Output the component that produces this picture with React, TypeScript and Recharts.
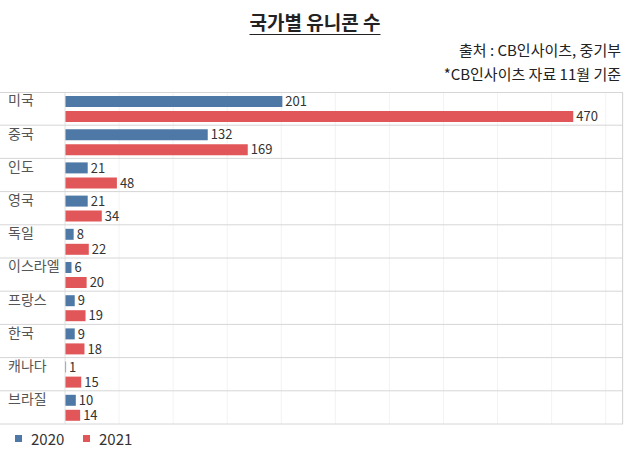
import { BarChart, Bar, XAxis, YAxis, CartesianGrid, LabelList } from 'recharts';

const countries = ['미국', '중국', '인도', '영국', '독일', '이스라엘', '프랑스', '한국', '캐나다', '브라질'];
const y2020 = [201, 132, 21, 21, 8, 6, 9, 9, 1, 10];
const y2021 = [470, 169, 48, 34, 22, 20, 19, 18, 15, 14];
const xTicks = [0, 50, 100, 150, 200, 250, 300, 350, 400, 450, 500];

const data = countries.map((c, i) => ({ country: c, v2020: y2020[i], v2021: y2021[i] }));

const FONT = '"Noto Sans CJK KR", "Noto Sans", sans-serif';
const BLUE = '#4e79a7';
const RED = '#e15759';
const TOP = 92;
const BAND = 33.2;

function CountryTick(props: any) {
  const { y, payload } = props;
  const bottom = y + BAND / 2;
  return (
    <g>
      <text x={8} y={y - 7} fontSize={14} fill="#555" fontFamily={FONT} dominantBaseline="middle">
        {payload.value}
      </text>
      <line x1={0} x2={623} y1={bottom} y2={bottom} stroke="#d6d6d6" strokeWidth={1} />
    </g>
  );
}

function LegendItem({ color, label, left }: { color: string; label: string; left: number }) {
  return (
    <div style={{ position: 'absolute', left, top: 0, display: 'flex', alignItems: 'center', height: 20 }}>
      <span style={{ width: 7, height: 7, background: color, display: 'inline-block', marginRight: 9 }} />
      <span style={{ fontSize: 15, color: '#333', fontFamily: FONT }}>{label}</span>
    </div>
  );
}

export default function App() {
  return (
    <div style={{ position: 'absolute', left: 0, top: 0, width: 630, height: 451, background: '#fff', fontFamily: FONT }}>
      <div
        style={{
          position: 'absolute', left: 0, width: 630, top: 8, textAlign: 'center',
          fontSize: 19, fontWeight: 700, color: '#222', textDecoration: 'underline', textUnderlineOffset: 4,
        }}
      >
        국가별 유니콘 수
      </div>
      <div style={{ position: 'absolute', right: 9, top: 38, fontSize: 15, color: '#222', textAlign: 'right', lineHeight: '24px' }}>
        <div>출처 : CB인사이츠, 중기부</div>
        <div>*CB인사이츠 자료 11월 기준</div>
      </div>
      <div style={{ position: 'absolute', left: 0, top: 0 }}>
        <BarChart
          width={630}
          height={451}
          data={data}
          layout="vertical"
          margin={{ top: TOP, right: 7, bottom: 27, left: 0 }}
          barSize={11}
          barGap={4}
        >
          <CartesianGrid horizontal={false} stroke="#f3f3f3" />
          <XAxis type="number" hide domain={[0, 516]} ticks={xTicks} />
          <YAxis
            type="category"
            dataKey="country"
            width={65}
            axisLine={{ stroke: '#e8e8e8' }}
            tickLine={false}
            tick={<CountryTick />}
            interval={0}
          />
          <Bar dataKey="v2020" name="2020" fill={BLUE} isAnimationActive={false}>
            <LabelList dataKey="v2020" position="right" offset={3} fontSize={13} fill="#333" fontFamily={FONT} />
          </Bar>
          <Bar dataKey="v2021" name="2021" fill={RED} isAnimationActive={false}>
            <LabelList dataKey="v2021" position="right" offset={3} fontSize={13} fill="#333" fontFamily={FONT} />
          </Bar>
        </BarChart>
      </div>
      <div style={{ position: 'absolute', left: 0, top: TOP, width: 623, height: 1, background: '#d6d6d6' }} />
      <div style={{ position: 'absolute', left: 622, top: TOP, width: 1, height: BAND * 10, background: '#d6d6d6' }} />
      <div style={{ position: 'absolute', left: 0, top: 428, width: 630, height: 20 }}>
        <LegendItem color={BLUE} label="2020" left={15} />
        <LegendItem color={RED} label="2021" left={83} />
      </div>
    </div>
  );
}
